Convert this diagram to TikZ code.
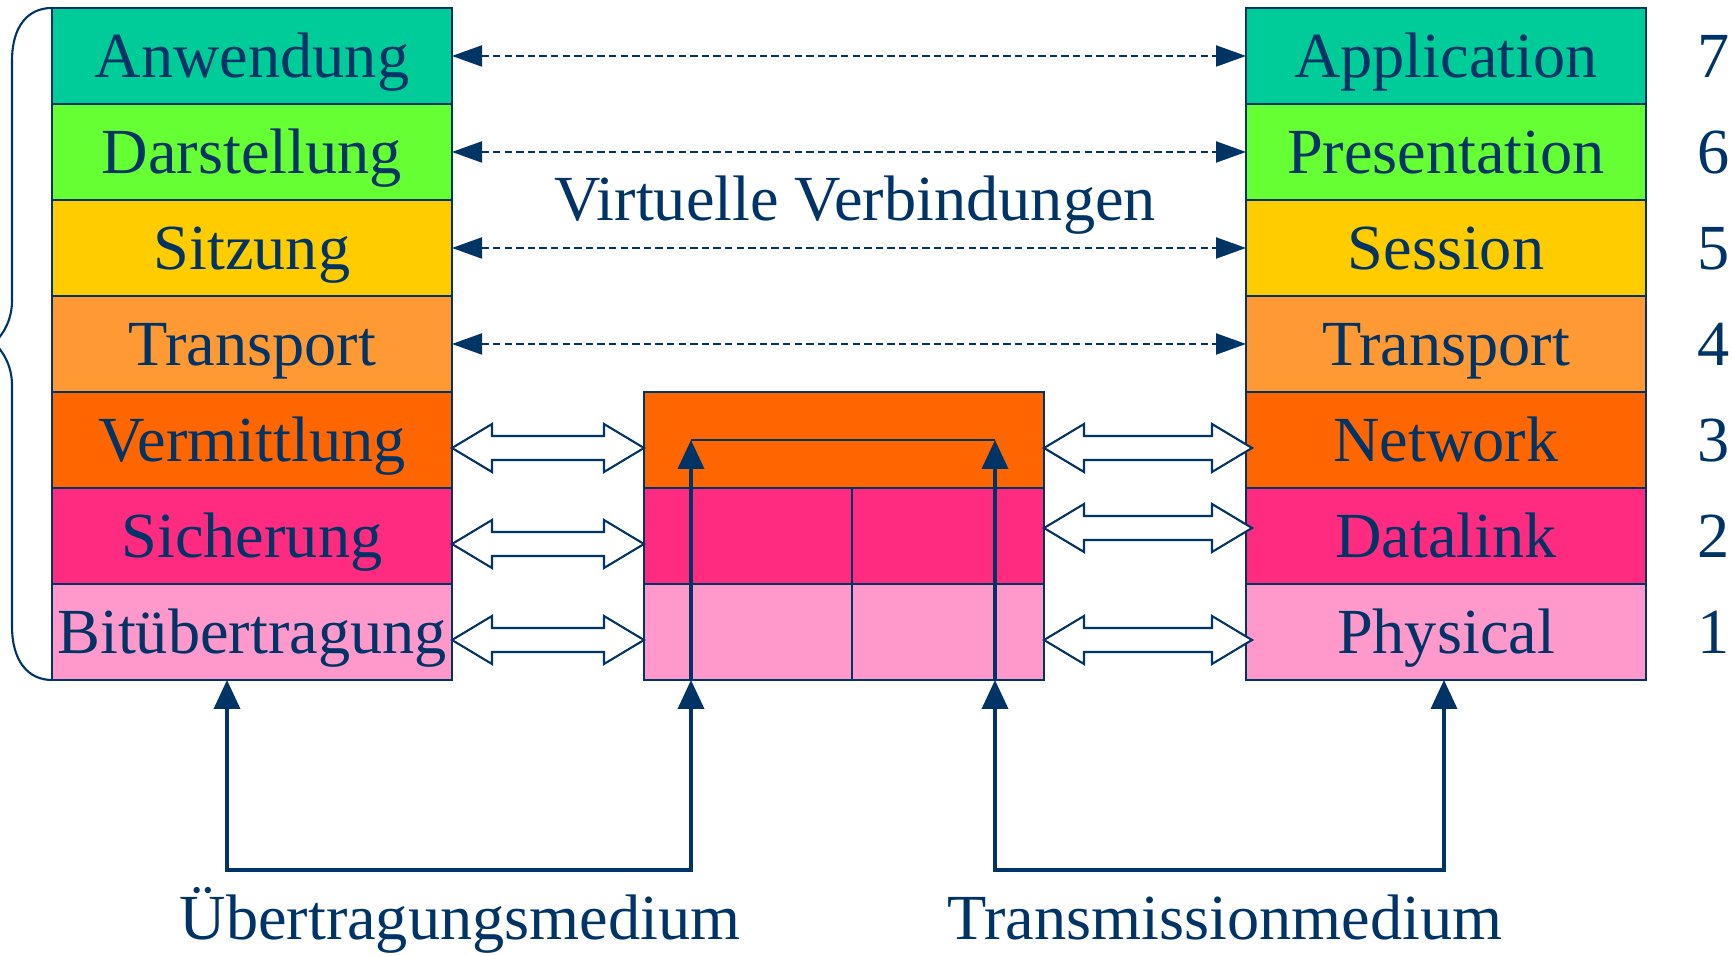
\documentclass[tikz,border=0pt]{standalone}
\usepackage{fontspec}
\setmainfont{Liberation Serif}
\usetikzlibrary{arrows.meta,calc,positioning}

\definecolor{navy}{RGB}{0,51,102}
\definecolor{c7}{RGB}{0,204,153}
\definecolor{c6}{RGB}{102,255,51}
\definecolor{c5}{RGB}{255,204,0}
\definecolor{c4}{RGB}{255,153,51}
\definecolor{c3}{RGB}{255,102,0}
\definecolor{c2}{RGB}{255,43,128}
\definecolor{c1}{RGB}{255,153,204}

% hohler Doppelpfeil zwischen zwei Punkten gleicher Hoehe
\newcommand\hollowarrow[2]{%
  \draw[hollow] let \p1=(#1), \p2=(#2) in
    (\x1,\y1) -- ++(0.4,0.24) -- ++(0,-0.12) -- ({\x2-0.4cm},{\y1+0.12cm})
    -- ++(0,0.12) -- (\x2,\y1) -- ++(-0.4,-0.24) -- ++(0,0.12)
    -- ({\x1+0.4cm},{\y1-0.12cm}) -- ++(0,-0.12) -- cycle;}

\begin{document}
\begin{tikzpicture}[
  every node/.style={text=navy, font=\fontsize{18.3}{21}\selectfont},
  layer/.style={draw=navy, line width=0.6pt, minimum width=4cm, minimum height=0.96cm,
    inner sep=0pt, outer sep=0pt, text height=12pt, text depth=0pt},
  lhalf/.style={layer, minimum width=2.08cm},
  rhalf/.style={layer, minimum width=1.92cm},
  num/.style={text height=12pt, text depth=0pt},
  virt/.style={navy, line width=0.6pt, dash pattern=on 2.1pt off 1.2pt,
    {Triangle[length=0.3cm,width=0.21cm]}-{Triangle[length=0.3cm,width=0.21cm]}},
  medium/.style={navy, line width=1.05pt},
  hollow/.style={draw=navy, line width=0.6pt, fill=white},
  >={Triangle[length=0.29cm,width=0.26cm]}
]
  \useasboundingbox (0,0) rectangle (17.34,9.56);

  % Schichten: links deutsch, rechts englisch, daneben die Nummer
  \foreach \i/\de/\en in {7/Anwendung/Application, 6/Darstellung/Presentation,
      5/Sitzung/Session, 4/Transport/Transport, 3/Vermittlung/Network,
      2/Sicherung/Datalink, 1/Bitübertragung/Physical} {
    \node[layer, fill=c\i] (de\i) at (2.52, {2.28+0.96*\i}) {\de};
    \node[layer, fill=c\i] (en\i) at (14.46, {2.28+0.96*\i}) {\en};
    \node[num] (n\i) at (17.14, {2.28+0.96*\i}) {\i};
  }

  % Zwischensystem (Router)
  \node[layer, fill=c3] (r3) at (8.44, 5.16) {};
  \node[lhalf, fill=c2, anchor=north west] (r2l) at (r3.south west) {};
  \node[rhalf, fill=c2, right=0pt of r2l] (r2r) {};
  \node[lhalf, fill=c1, below=0pt of r2l] (r1l) {};
  \node[rhalf, fill=c1, right=0pt of r1l] (r1r) {};

  % Klammer links
  \draw[navy, line width=0.6pt] (de7.north west)
    .. controls (0.28,9.48) and (0.12,9.30) .. (0.12,8.95) -- (0.12,6.55)
    .. controls (0.12,6.35) and (0.02,6.20) .. (-0.06,6.13)
    .. controls (0.02,6.06) and (0.12,5.91) .. (0.12,5.71) -- (0.12,3.30)
    .. controls (0.12,2.95) and (0.28,2.76) .. (de1.south west);

  % virtuelle Verbindungen
  \foreach \i in {7,6,5,4}
    \draw[virt] (de\i) -- (en\i);
  \node (vv) at (8.55, 7.51) {Virtuelle Verbindungen};

  % Doppelpfeile zum Router
  \hollowarrow{[yshift=-0.08cm]de3.east}{r3.west}
  \hollowarrow{[yshift=-0.08cm]de2.east}{r2l.west}
  \hollowarrow{[yshift=-0.08cm]de1.east}{r1l.west}
  \hollowarrow{[yshift=-0.08cm]r3.east}{[xshift=0.06cm]en3.west}
  \hollowarrow{[yshift=0.08cm]r2r.east}{[xshift=0.06cm]en2.west}
  \hollowarrow{[yshift=-0.08cm]r1r.east}{[xshift=0.06cm]en1.west}

  % Medium
  \coordinate (ul) at (2.27,0.86);
  \coordinate (ur) at (6.91,0.86);
  \coordinate (vl) at (9.95,0.86);
  \coordinate (vr) at (14.44,0.86);
  \draw[medium, <->] (ul |- de1.south) -- (ul) -- (ur) -- (ur |- r1l.south);
  \draw[medium, <->] (vl |- r1r.south) -- (vl) -- (vr) -- (vr |- en1.south);
  \draw[medium, ->] (ur |- r1l.south) -- (ur |- r3);
  \draw[medium, ->] (vl |- r1r.south) -- (vl |- r3);
  \draw[navy, line width=0.6pt] (ur |- r3) -- (vl |- r3);

  \node[anchor=base] (ue) at (4.60, 0.16) {Übertragungsmedium};
  \node[anchor=base] (tm) at (12.25, 0.16) {Transmissionmedium};

\end{tikzpicture}
\end{document}
